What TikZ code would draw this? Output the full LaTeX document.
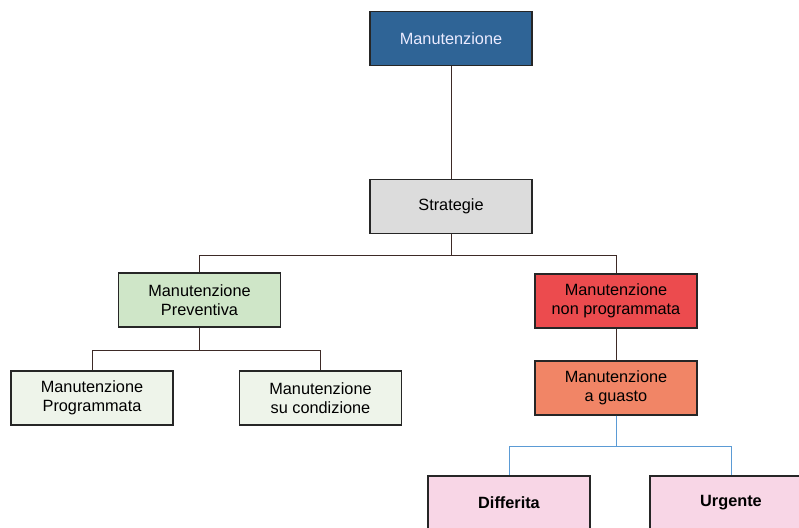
\documentclass[tikz,border=0pt]{standalone}
\usepackage{fontspec}
\setmainfont{Liberation Sans}
\definecolor{topblue}{HTML}{2F6496}
\definecolor{stratgray}{HTML}{DCDCDC}
\definecolor{prevgreen}{HTML}{CFE6C8}
\definecolor{leafgreen}{HTML}{EEF4EA}
\definecolor{nonred}{HTML}{EC4B4E}
\definecolor{guastosalmon}{HTML}{F18566}
\definecolor{leafpink}{HTML}{F8D6E6}
\definecolor{linkbrown}{HTML}{3D2A26}
\definecolor{linkblue}{HTML}{5B9BD5}
\begin{document}
\begin{tikzpicture}[x=1pt, y=-1pt,
  box/.style={draw=black!85, line width=1.1pt, minimum width=162pt, minimum height=54pt,
    align=center, inner sep=2pt, font=\fontsize{16.3}{19.5}\selectfont},
  link/.style={draw=linkbrown, line width=0.9pt},
  bluelink/.style={draw=linkblue, line width=1pt}]
\useasboundingbox (0,0) rectangle (799,527);
\node[box, fill=topblue, text=white!92!blue] (manut) at (451,38.5) {Manutenzione};
\node[box, fill=stratgray] (strat) at (451,206.5) {Strategie};
\node[box, fill=prevgreen] (prev) at (199.5,300) {Manutenzione\\Preventiva};
\node[box, fill=nonred] (nonprog) at (616,301) {Manutenzione\\non programmata};
\node[box, fill=leafgreen] (progr) at (92,398) {Manutenzione\\Programmata};
\node[box, fill=leafgreen] (cond) at (320.5,398) {Manutenzione\\su condizione};
\node[box, fill=guastosalmon] (guasto) at (616,388) {Manutenzione\\a guasto};
\node[box, fill=leafpink, font=\fontsize{16.3}{19.5}\selectfont\bfseries] (diff) at (509,503) {Differita};
\node[box, fill=leafpink, font=\fontsize{16.3}{19.5}\selectfont\bfseries] (urg) at (731,503) {Urgente};
% connectors
\draw[link] (manut) -- (strat);
\draw[link] (strat.south) -- ++(0,21) -| (prev.north);
\draw[link] (strat.south) -- ++(0,21) -| (nonprog.north);
\draw[link] (prev.south) -- ++(0,23) -| (progr.north);
\draw[link] (prev.south) -- ++(0,23) -| (cond.north);
\draw[link] (nonprog) -- (guasto);
\draw[bluelink] (guasto.south) -- ++(0,31) -| (diff.north);
\draw[bluelink] (guasto.south) -- ++(0,31) -| (urg.north);
\end{tikzpicture}
\end{document}
